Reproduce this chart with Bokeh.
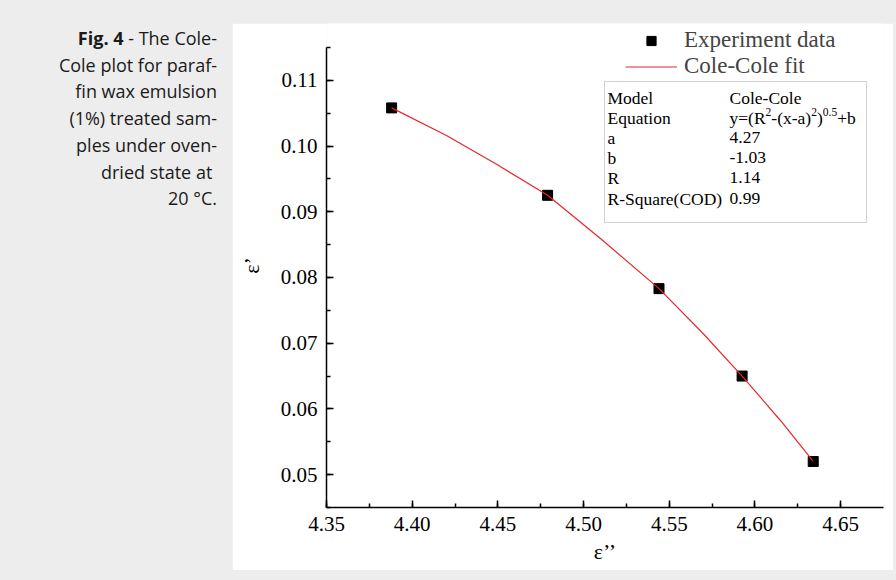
from bokeh.plotting import figure
from bokeh.models import (Range1d, SingleIntervalTicker, NumeralTickFormatter, Legend,
                          LegendItem, Label, BoxAnnotation, Div)
from bokeh.layouts import row
from bokeh.embed import file_html
from bokeh.resources import INLINE

# ---- data ----
exp_x = [4.388, 4.479, 4.544, 4.5925, 4.634]
exp_y = [0.1058, 0.0925, 0.0783, 0.0650, 0.0520]

fit_x = [4.388, 4.42, 4.45, 4.479, 4.51, 4.544, 4.57, 4.5925, 4.615, 4.634]
fit_y = [0.1058, 0.1016, 0.0971, 0.0925, 0.0859, 0.0783, 0.0714, 0.0650, 0.0582, 0.0520]

table_keys = ["Model", "Equation", "a", "b", "R", "R-Square(COD)"]
table_vals = ["Cole-Cole", None, "4.27", "-1.03", "1.14", "0.99"]
# equation pieces: (text, is_superscript)
equation_parts = [("y=(R", False), ("2", True), ("-(x-a)", False), ("2", True),
                  (")", False), ("0.5", True), ("+b", False)]

legend_labels = ["Experiment data", "Cole-Cole fit"]

caption_html = ("<b>Fig. 4</b> - The Cole-<br>Cole plot for paraf-<br>fin wax emulsion<br>"
                "(1%) treated sam-<br>ples under oven-<br>dried state at&nbsp;<br>20 °C.")

SERIF = "Liberation Serif"

# frame reaches the top of the white panel; the y axis itself stops at 0.115
p = figure(width=661, height=547, output_backend="svg", toolbar_location=None,
           x_range=Range1d(4.35, 4.675), y_range=Range1d(0.045, 0.11864),
           min_border_left=94, min_border_right=10, min_border_top=0, min_border_bottom=63,
           background_fill_color="white", border_fill_color="white",
           margin=(23, 0, 0, 0))
p.outline_line_color = None
p.xgrid.visible = False
p.ygrid.visible = False

p.xaxis.ticker = SingleIntervalTicker(interval=0.05, num_minor_ticks=2)
p.yaxis.ticker = SingleIntervalTicker(interval=0.01, num_minor_ticks=2)
p.yaxis.bounds = (0.045, 0.115)
p.xaxis.formatter = NumeralTickFormatter(format="0.00")
p.yaxis.formatter = NumeralTickFormatter(format="0.00")
p.xaxis.axis_label = "ε’’"
p.yaxis.axis_label = "ε’"
for ax in (p.xaxis, p.yaxis):
    ax.axis_line_width = 1.5
    ax.axis_line_color = "black"
    ax.major_tick_in = 7
    ax.major_tick_out = 0
    ax.minor_tick_in = 4
    ax.minor_tick_out = 0
    ax.major_tick_line_width = 1.5
    ax.minor_tick_line_width = 1.5
    ax.major_tick_line_color = "black"
    ax.minor_tick_line_color = "black"
    ax.major_label_text_font = SERIF
    ax.major_label_text_font_size = "21px"
    ax.major_label_text_color = "black"
    ax.axis_label_text_font = SERIF
    ax.axis_label_text_font_size = "22px"
    ax.axis_label_text_font_style = "normal"
    ax.axis_label_text_color = "black"
p.xaxis.major_label_standoff = 9
p.yaxis.major_label_standoff = 9
p.xaxis.axis_label_standoff = 5
p.yaxis.axis_label_standoff = 14

r_sc = p.scatter(exp_x, exp_y, marker="square", size=10, fill_color="black", line_color="black")
r_ln = p.line(fit_x, fit_y, line_color="#e8262b", line_width=1.2)

legend = Legend(items=[LegendItem(label=legend_labels[0], renderers=[r_sc]),
                       LegendItem(label=legend_labels[1], renderers=[r_ln])],
                location=(299, 428), border_line_color=None, background_fill_alpha=0,
                label_text_font=SERIF, label_text_font_size="23px",
                glyph_width=52, glyph_height=23, label_height=23, spacing=0,
                padding=0, margin=0, label_standoff=7)
p.add_layout(legend)

box = BoxAnnotation(left=278, right=540, top=426, bottom=285,
                    left_units="screen", right_units="screen", top_units="screen", bottom_units="screen",
                    fill_color="white", fill_alpha=1, line_color="#666666", line_width=1)
p.add_layout(box)

FS = 17.5
SUP = 11.5
row_y = [410, 390, 370, 350, 330, 309]
for k, v, yy in zip(table_keys, table_vals, row_y):
    p.add_layout(Label(x=281, y=yy, x_units="screen", y_units="screen", text=k,
                       text_font=SERIF, text_font_size=f"{FS}px", text_baseline="middle",
                       text_color="black"))
    if v is not None:
        p.add_layout(Label(x=403, y=yy, x_units="screen", y_units="screen", text=v,
                           text_font=SERIF, text_font_size=f"{FS}px", text_baseline="middle",
                           text_color="black"))

# equation with superscripts, built piece by piece (Times/Liberation Serif advance widths)
widths = {"y": 0.5, "=": 0.564, "(": 0.333, ")": 0.333, "R": 0.667, "-": 0.333, "x": 0.5,
          "a": 0.444, "+": 0.564, "b": 0.5, "2": 0.5, "0": 0.5, ".": 0.25, "5": 0.5}
xx = 403.0
eq_y = row_y[1]
for txt, sup in equation_parts:
    size = SUP if sup else FS
    p.add_layout(Label(x=xx, y=eq_y + (6 if sup else 0), x_units="screen", y_units="screen",
                       text=txt, text_font=SERIF, text_font_size=f"{size}px",
                       text_baseline="middle", text_color="black"))
    xx += sum(widths[c] for c in txt) * size

cap = Div(text=caption_html, width=209, margin=(25, 15, 0, 8),
          styles={"font-family": "Open Sans", "font-size": "18px", "line-height": "26.7px",
                  "text-align": "right", "color": "#1a1a1a"})

layout = row(cap, p)

html = file_html(layout, INLINE, title="Cole-Cole plot")
html = html.replace("</head>",
                    "<style>html,body{background:#ededed;margin:0;padding:0;}</style></head>")
open("out.html", "w").write(html)
